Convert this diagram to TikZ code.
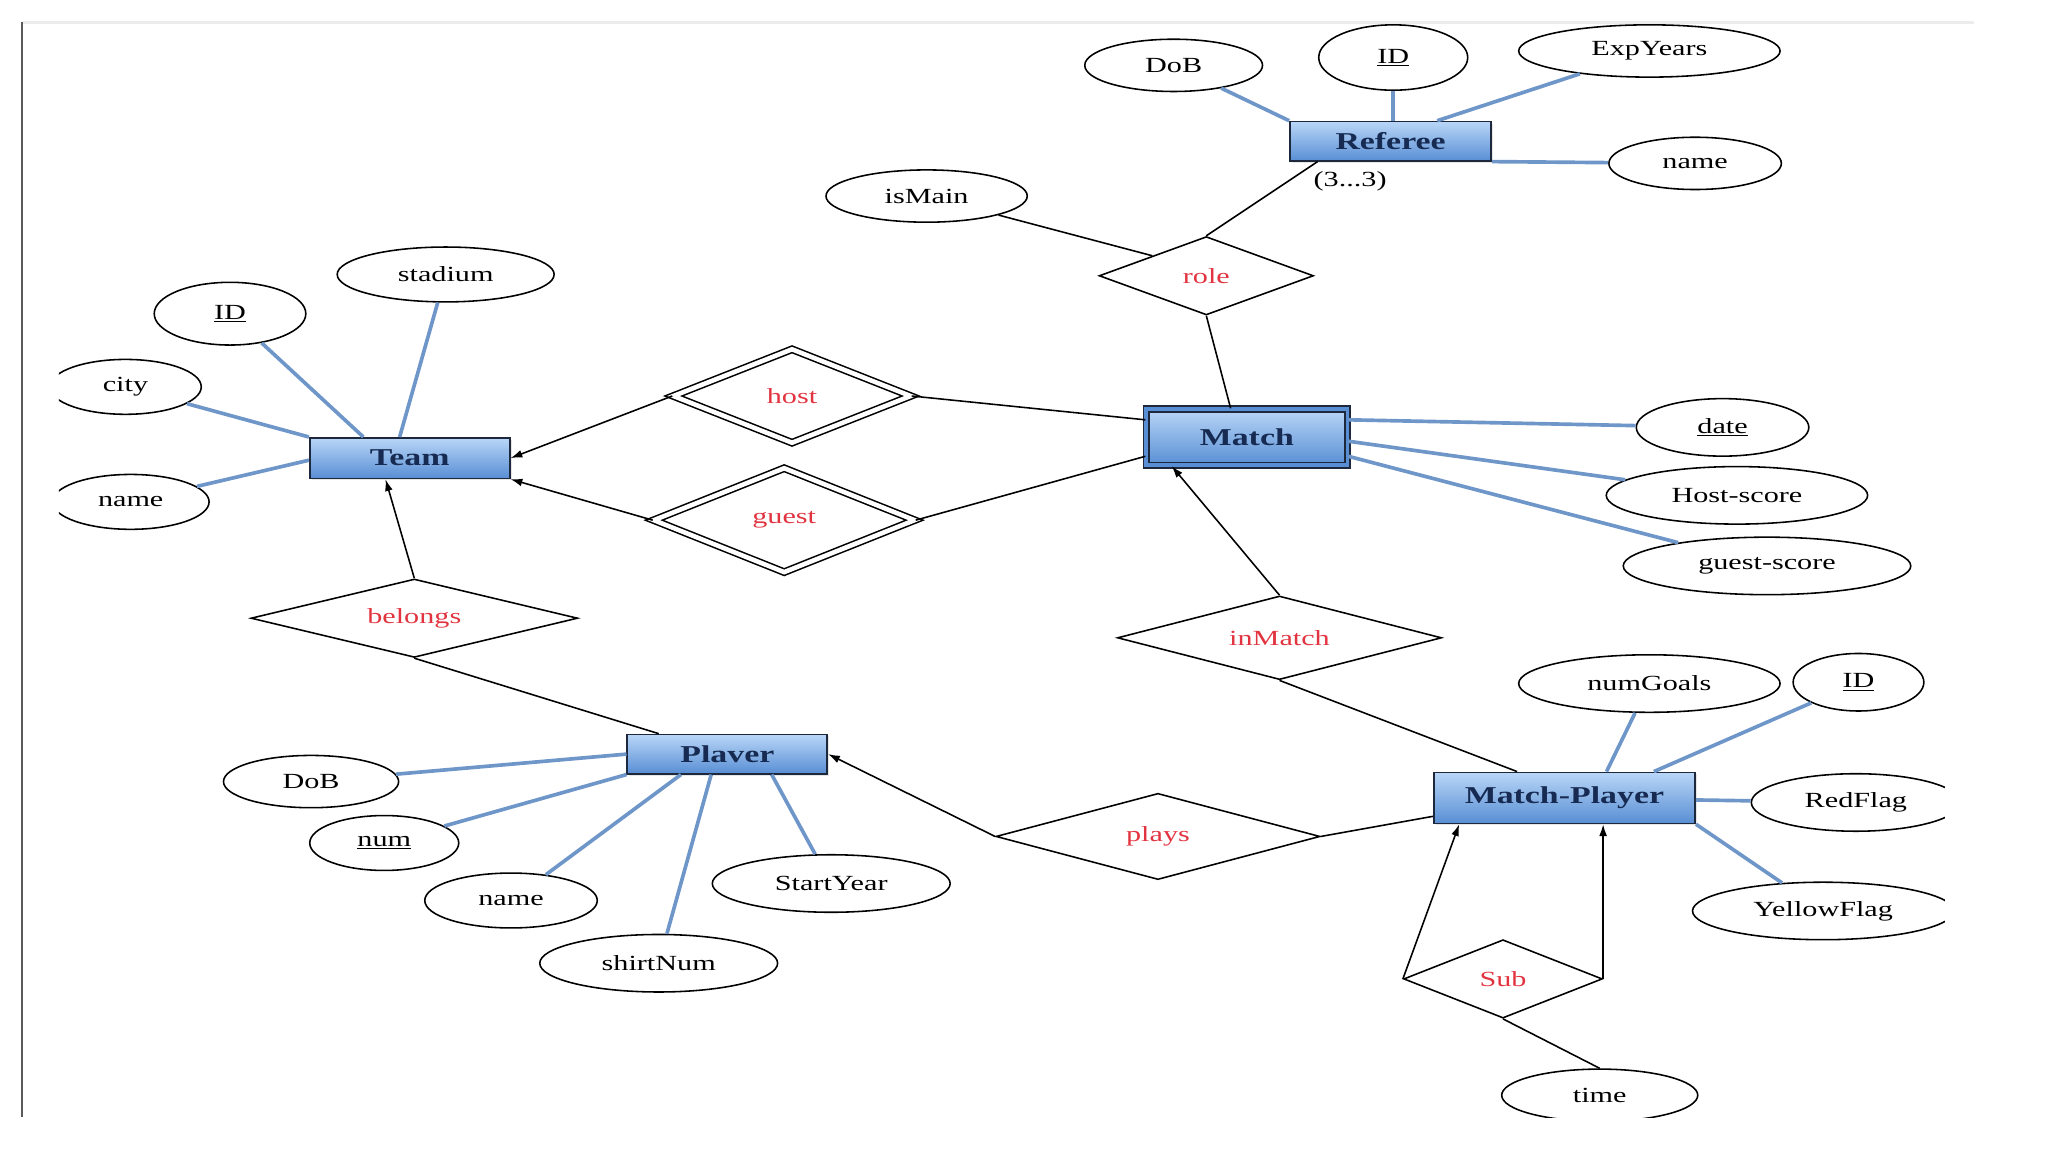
\documentclass[tikz,border=0pt]{standalone}
\usepackage{fontspec}
\setmainfont[FakeStretch=1.4]{Liberation Serif}
\usetikzlibrary{shapes.geometric,arrows.meta,calc,shadows}

\definecolor{linkblue}{RGB}{110,150,200}
\definecolor{boxtop}{RGB}{185,214,247}
\definecolor{boxbot}{RGB}{88,142,212}
\definecolor{boxline}{RGB}{30,40,60}
\definecolor{navy}{RGB}{22,42,82}
\definecolor{relred}{RGB}{226,52,64}
\definecolor{framegray}{RGB}{90,90,90}
\definecolor{edgegray}{RGB}{236,236,236}
\newcommand\attrsize{\fontsize{16.5}{19}\selectfont}

\begin{document}
\begin{tikzpicture}[x=1pt,y=1pt,yscale=-1,
  entity/.style={rectangle,draw=boxline,line width=1.3pt,top color=boxtop,bottom color=boxbot,
    text=navy,font=\fontsize{18.5}{22}\selectfont\bfseries,inner sep=0pt,
    drop shadow={opacity=0.2,shadow xshift=1.5pt,shadow yshift=-1.5pt}},
  dblentity/.style={entity,double=boxbot,double distance=3pt},
  attr/.style={ellipse,draw,line width=1.2pt,inner sep=0pt,font=\attrsize},
  rel/.style={diamond,aspect=4,draw,line width=1.2pt,inner sep=0pt,text=relred,font=\attrsize},
  weakrel/.style={rel,double,double distance=3.5pt},
  attrline/.style={draw=linkblue,line width=2.8pt},
  relline/.style={draw,line width=1.2pt},
  tip/.style={-{Latex[length=9pt,width=6pt]}}
]
\useasboundingbox (0,0) rectangle (1567,881.5);
\draw[edgegray,line width=2pt] (17,17) -- (1510,17);
\draw[framegray,line width=1.5pt] (17,17) -- (17,855);

\begin{scope}
\clip (45,0) rectangle (1488,855);

% Referee
\node[entity,minimum width=154,minimum height=30] (referee) at (1064,108) {Referee};
\node[attr,minimum width=136,minimum height=40] (refdob) at (898,50) {DoB};
\node[attr,minimum width=114,minimum height=50] (refid) at (1066,44) {\underline{ID}};
\node[attr,minimum width=200,minimum height=40] (refexp) at (1262,39) {ExpYears};
\node[attr,minimum width=132,minimum height=40] (refname) at (1297,125) {name};
\node[font=\attrsize,inner sep=0pt] (refcard) at (1033,139) {(3...3)};

% Match
\node[dblentity,minimum width=154,minimum height=43] (match) at (954,334.5) {Match};
\node[attr,minimum width=132,minimum height=44] (date) at (1318,327) {\underline{date}};
\node[attr,minimum width=200,minimum height=44] (hostscore) at (1329,379) {Host-score};
\node[attr,minimum width=220,minimum height=44] (guestscore) at (1352,433) {guest-score};

% Team
\node[entity,minimum width=153,minimum height=31] (team) at (313.5,350.5) {Team};
\node[attr,minimum width=166,minimum height=42] (stadium) at (341,210) {stadium};
\node[attr,minimum width=116,minimum height=48] (teamid) at (176,240) {\underline{ID}};
\node[attr,minimum width=116,minimum height=42] (city) at (96,296) {city};
\node[attr,minimum width=120,minimum height=42] (teamname) at (100,384) {name};

% Player
\node[entity,minimum width=153,minimum height=30] (player) at (556.5,577) {Plaver};
\node[attr,minimum width=134,minimum height=40] (pdob) at (238,598) {DoB};
\node[attr,minimum width=114,minimum height=42] (pnum) at (294,645) {\underline{num}};
\node[attr,minimum width=132,minimum height=42] (pname) at (391,689) {name};
\node[attr,minimum width=182,minimum height=44] (shirtnum) at (504,737) {shirtNum};
\node[attr,minimum width=182,minimum height=44] (startyear) at (636,676) {StartYear};

% Match-Player
\node[entity,minimum width=200,minimum height=39] (mp) at (1197,610.5) {Match-Player};
\node[attr,minimum width=200,minimum height=44] (numgoals) at (1262,523) {numGoals};
\node[attr,minimum width=100,minimum height=44] (mpid) at (1422,522) {\underline{ID}};
\node[attr,minimum width=160,minimum height=44] (redflag) at (1420,614) {RedFlag};
\node[attr,minimum width=200,minimum height=44] (yellowflag) at (1395,697) {YellowFlag};
\node[attr,minimum width=150,minimum height=40] (time) at (1224,838) {time};

% relationships
\node[attr,minimum width=154,minimum height=40] (ismain) at (709,150) {isMain};
\node[rel,minimum width=164,minimum height=60] (role) at (923,211) {role};
\node[weakrel,minimum width=182,minimum height=72] (host) at (606,303) {host};
\node[weakrel,minimum width=200,minimum height=80] (guest) at (600,398) {guest};
\node[rel,minimum width=250,minimum height=60] (belongs) at (317,473) {belongs};
\node[rel,minimum width=248,minimum height=66] (plays) at (886,640) {plays};
\node[rel,minimum width=248,minimum height=64] (inmatch) at (979,488) {inMatch};
\node[rel,minimum width=152,minimum height=60] (sub) at (1150,749) {Sub};

% attribute links
\draw[attrline] (refdob) -- (referee.north west);
\draw[attrline] (refid.south) -- (refid.south |- referee.north);
\draw[attrline] (refexp) -- ($(referee.north west)!0.73!(referee.north east)$);
\draw[attrline] (refname) -- (referee.south east);
\draw[attrline] ($(match.north east)!0.2!(match.south east)$) -- (date);
\draw[attrline] ($(match.north east)!0.57!(match.south east)$) -- (hostscore);
\draw[attrline] ($(match.north east)!0.83!(match.south east)$) -- (guestscore);
\draw[attrline] (stadium) -- ($(team.north west)!0.45!(team.north east)$);
\draw[attrline] (teamid) -- ($(team.north west)!0.27!(team.north east)$);
\draw[attrline] (city) -- (team.north west);
\draw[attrline] (teamname) -- ($(team.north west)!0.55!(team.south west)$);
\draw[attrline] (pdob) -- ($(player.north west)!0.5!(player.south west)$);
\draw[attrline] (pnum) -- (player.south west);
\draw[attrline] (pname) -- ($(player.south west)!0.27!(player.south east)$);
\draw[attrline] (shirtnum) -- ($(player.south west)!0.42!(player.south east)$);
\draw[attrline] (startyear) -- ($(player.south west)!0.72!(player.south east)$);
\draw[attrline] (numgoals) -- ($(mp.north west)!0.66!(mp.north east)$);
\draw[attrline] (mpid) -- ($(mp.north west)!0.84!(mp.north east)$);
\draw[attrline] (redflag) -- (mp);
\draw[attrline] (yellowflag) -- (mp.south east);

% relationship links
\draw[relline] (role.north) -- ($(referee.south west)!0.14!(referee.south east)$);
\draw[relline] (ismain) -- (role.north west);
\draw[relline] (role.south) -- ($(match.north west)!0.42!(match.north east)$);
\draw[relline,tip] (host.west) -- (team.east);
\draw[relline] (host.east) -- ($(match.north west)!0.2!(match.south west)$);
\draw[relline,tip] (guest.west) -- (team.south east);
\draw[relline] (guest.east) -- ($(match.north west)!0.83!(match.south west)$);
\draw[relline,tip] (belongs.north) -- ($(team.south west)!0.38!(team.south east)$);
\draw[relline] (belongs.south) -- ($(player.north west)!0.16!(player.north east)$);
\draw[relline,tip] (plays.west) -- (player.east);
\draw[relline] (plays.east) -- ($(mp.north west)!0.85!(mp.south west)$);
\draw[relline,tip] (inmatch.north) -- ($(match.south west)!0.13!(match.south east)$);
\draw[relline] (inmatch.south) -- ($(mp.north west)!0.32!(mp.north east)$);
\draw[relline,tip] (sub.west) -- ($(mp.south west)!0.1!(mp.south east)$);
\draw[relline,tip] (sub.east) -- (sub.east |- mp.south);
\draw[relline] (sub.south) -- (time.north);
\end{scope}
\end{tikzpicture}
\end{document}
